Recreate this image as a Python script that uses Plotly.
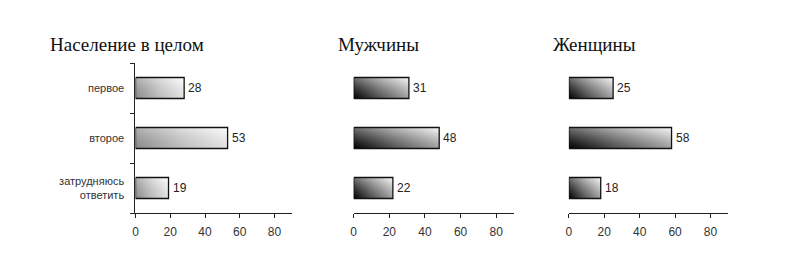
import plotly.graph_objects as go

categories = ["первое", "второе", "затрудняюсь<br>ответить"]
titles = ["Население в целом", "Мужчины", "Женщины"]
total = [28, 53, 19]
men = [31, 48, 22]
women = [25, 58, 18]
x_ticks = [0, 20, 40, 60, 80]

series = [total, men, women]
domains = [[133/790, 290/790], [352/790, 513/790], [568/790, 728/790]]
title_x = [45/790, 334/790, 550/790]
scales = [
    [[0, "#9a9a9a"], [0.5, "#d4d4d4"], [1, "#ffffff"]],
    [[0, "#000000"], [0.45, "#7a7a7a"], [1, "#f6f6f6"]],
    [[0, "#000000"], [0.45, "#7a7a7a"], [1, "#f6f6f6"]],
]
shade = [
    [[0, "rgba(60,60,60,0.15)"], [1, "rgba(255,255,255,0.25)"]],
    [[0, "rgba(0,0,0,0.35)"], [1, "rgba(255,255,255,0.45)"]],
    [[0, "rgba(0,0,0,0.35)"], [1, "rgba(255,255,255,0.45)"]],
]
h = 0.21

fig = go.Figure()
for p, vals in enumerate(series):
    xa = "x" if p == 0 else f"x{p+1}"
    ya = "y" if p == 0 else f"y{p+1}"
    for i, v in enumerate(vals):
        xs = [0, v, v, 0, 0]
        ys = [i - h, i - h, i + h, i + h, i - h]
        fig.add_trace(go.Scatter(
            x=xs, y=ys, mode="lines", fill="toself",
            fillgradient=dict(type="horizontal", colorscale=scales[p]),
            line=dict(color="rgba(0,0,0,0)", width=0),
            xaxis=xa, yaxis=ya, showlegend=False, hoverinfo="skip"))
        fig.add_trace(go.Scatter(
            x=xs, y=ys, mode="lines", fill="toself",
            fillgradient=dict(type="vertical", colorscale=shade[p]),
            line=dict(color="#111111", width=1.3),
            xaxis=xa, yaxis=ya, showlegend=False, hoverinfo="skip"))
        fig.add_annotation(
            x=v, y=i, xref=xa, yref=ya, xanchor="left", yanchor="middle",
            xshift=2, showarrow=False, text=str(v),
            font=dict(family="Liberation Sans, Arial", size=12, color="#222222"))

layout = dict(
    width=790, height=269, margin=dict(l=0, r=0, t=0, b=0),
    paper_bgcolor="white", plot_bgcolor="white",
    font=dict(family="Liberation Sans, Arial", size=10, color="#333333"),
)
for p in range(3):
    suf = "" if p == 0 else str(p + 1)
    layout[f"xaxis{suf}"] = dict(
        domain=domains[p], range=[0, 90], tickvals=x_ticks,
        showline=True, linecolor="#222222", linewidth=1.3,
        ticks="outside", ticklen=4, tickcolor="#222222",
        showgrid=False, zeroline=False, fixedrange=True,
        ticklabelstandoff=3,
        tickfont=dict(size=12, color="#333333"),
        anchor="y" if p == 0 else f"y{p+1}",
    )
    ydict = dict(
        domain=[(269-213)/269, (269-63)/269], range=[2.5, -0.5],
        showgrid=False, zeroline=False, fixedrange=True,
        anchor="x" if p == 0 else f"x{p+1}",
    )
    if p == 0:
        ydict.update(
            tickvals=[0, 1, 2], ticktext=categories, ticks="",
            showline=True, linecolor="#222222", linewidth=1.3,
            ticklabelstandoff=8,
            tickfont=dict(size=11, color="#333333"),
            minor=dict(tickvals=[-0.5, 0.5, 1.5, 2.5], ticks="outside",
                       ticklen=4, tickcolor="#222222", showgrid=False),
        )
    else:
        ydict.update(visible=False)
    layout[f"yaxis{suf}"] = ydict

fig.update_layout(**layout)
for p in range(3):
    fig.add_annotation(
        x=title_x[p], y=(269-45)/269, xref="paper", yref="paper",
        xanchor="left", yanchor="middle", showarrow=False,
        text=titles[p],
        font=dict(family="Liberation Serif, Times New Roman", size=19, color="#111111"))

fig.write_html("out.html")
